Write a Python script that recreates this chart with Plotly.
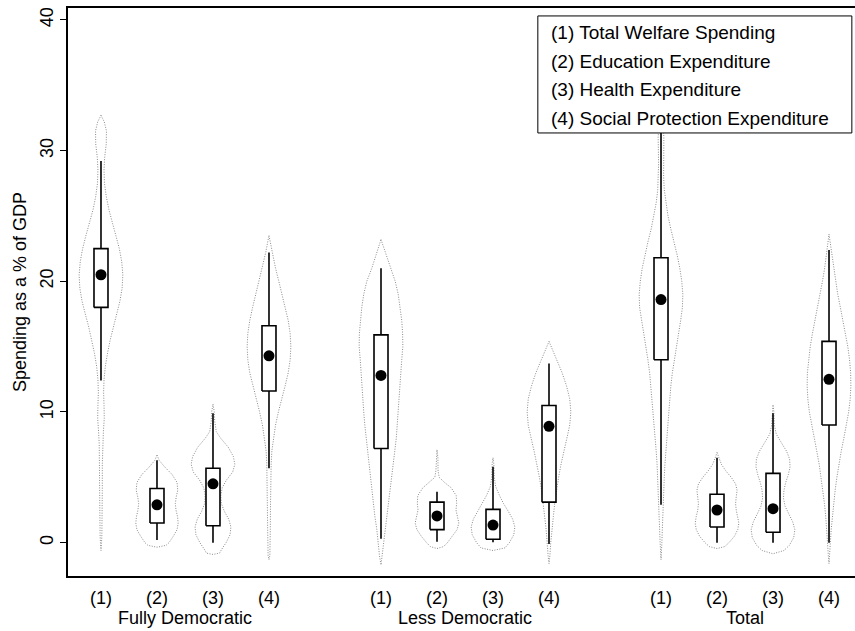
import plotly.graph_objects as go

# Groups and spending categories
groups = ["Fully Democratic", "Less Democratic", "Total"]
categories = ["(1)", "(2)", "(3)", "(4)"]
legend_labels = [
    "(1) Total Welfare Spending",
    "(2) Education Expenditure",
    "(3) Health Expenditure",
    "(4) Social Protection Expenditure",
]

# Box statistics per violin: lower adjacent, q1, median, q3, upper adjacent
lower_adj = [12.4, 0.2, 0.0, 5.7,   0.3, 0.08, 0.03, -0.1,   2.9, 0.0, 0.0, 0.0]
q1        = [18.0, 1.5, 1.3, 11.6,  7.2, 1.0, 0.26, 3.1,     14.0, 1.2, 0.8, 9.0]
median    = [20.5, 2.9, 4.5, 14.3,  12.8, 2.05, 1.35, 8.9,   18.6, 2.5, 2.6, 12.5]
q3        = [22.5, 4.15, 5.7, 16.6, 15.9, 3.1, 2.55, 10.5,   21.8, 3.7, 5.3, 15.4]
upper_adj = [29.2, 6.3, 9.9, 22.2,  21.0, 3.9, 5.8, 13.7,    32.7, 6.5, 9.9, 22.4]

# Kernel density profiles (value, relative density) for each violin
density_profiles = [
    # Fully Democratic
    [(32.7, 0), (32.2, .15), (31.5, .25), (30.5, .24), (29.5, .17), (28.5, .14), (27.5, .16),
     (26.5, .24), (25.5, .36), (24.5, .52), (23.5, .69), (22.5, .84), (21.5, .95), (20.5, 1.0),
     (19.5, .97), (18.5, .87), (17.5, .72), (16.5, .56), (15.5, .42), (14.5, .30), (13.5, .20),
     (12.5, .14), (11.5, .12), (10.5, .14), (9.5, .15), (8.5, .11), (7.5, .08), (6, .06),
     (4, .06), (2, .05), (0.5, .04), (-0.6, 0)],
    [(6.7, 0), (6.3, .10), (5.8, .35), (5.2, .70), (4.6, .92), (4.0, .95), (3.5, .88), (3.0, .84),
     (2.5, .87), (2.0, .94), (1.5, .97), (1.0, .92), (0.5, .75), (0.0, .55), (-0.2, .42), (-0.35, 0)],
    [(10.6, 0), (10.0, .06), (9.3, .08), (8.5, .15), (8.0, .35), (7.3, .70), (6.6, .93), (6.0, 1.0),
     (5.4, .90), (4.8, .62), (4.2, .42), (3.6, .36), (3.0, .38), (2.4, .52), (1.8, .72), (1.2, .82),
     (0.6, .78), (0.0, .60), (-0.5, .40), (-0.8, .30), (-0.9, 0)],
    [(23.5, 0), (23, .06), (22.2, .15), (21, .30), (20, .45), (19, .60), (18, .75), (17, .88),
     (16, .97), (15, 1.0), (14, .97), (13, .88), (12, .74), (11, .58), (10, .43), (9, .30),
     (8, .20), (7, .13), (6, .10), (5, .08), (3, .07), (1, .06), (-1, .04), (-1.3, 0)],
    # Less Democratic
    [(23.2, 0), (22.5, .14), (22, .23), (21, .42), (20, .65), (19, .79), (18, .88), (17, .95),
     (16, .99), (15, 1.0), (14, .95), (13, .91), (12, .88), (11, .84), (10, .79), (9, .74),
     (8, .70), (7, .63), (6, .56), (5, .49), (4, .42), (3, .35), (2, .28), (1, .19), (0, .12),
     (-1, .07), (-1.7, 0)],
    [(7.1, 0), (6.5, .04), (5.5, .05), (5.0, .10), (4.6, .35), (4.2, .65), (3.6, .88), (3.0, .90),
     (2.5, .87), (2.0, .95), (1.5, 1.0), (1.0, .92), (0.5, .72), (0.0, .48), (-0.3, .30), (-0.45, 0)],
    [(6.5, 0), (6.0, .04), (5.0, .06), (4.3, .12), (3.6, .30), (3.0, .48), (2.4, .70), (1.8, .90),
     (1.2, 1.0), (0.6, .95), (0.0, .75), (-0.4, .55), (-0.6, 0)],
    [(15.4, 0), (15, .10), (14, .35), (13, .60), (12, .80), (11, .95), (10, 1.0), (9, .95),
     (8, .82), (7, .68), (6, .55), (5, .44), (4, .34), (3, .26), (2, .20), (1, .13), (0, .08),
     (-1, .04), (-1.6, 0)],
    # Total
    [(32.7, 0), (32, .10), (31, .13), (30, .12), (29, .11), (28, .12), (27, .15), (26, .22),
     (25, .32), (24, .45), (23, .60), (22, .74), (21, .86), (20, .95), (19, 1.0), (18, .98),
     (17, .90), (16, .80), (15, .70), (14, .60), (13, .52), (12, .45), (11, .40), (10, .36),
     (9, .32), (8, .27), (7, .22), (6, .18), (5, .15), (4, .12), (3, .10), (2, .08), (1, .06),
     (0, .04), (-1.3, 0)],
    [(6.9, 0), (6.5, .08), (6.0, .20), (5.5, .40), (5.0, .65), (4.5, .85), (4.0, .92), (3.5, .88),
     (3.0, .85), (2.5, .88), (2.0, .95), (1.5, 1.0), (1.0, .95), (0.5, .80), (0.0, .55),
     (-0.3, .35), (-0.45, 0)],
    [(10.5, 0), (10, .04), (9, .06), (8.3, .15), (7.6, .40), (7.0, .62), (6.4, .76), (5.8, .78),
     (5.2, .70), (4.6, .58), (4.0, .50), (3.4, .48), (2.8, .55), (2.2, .72), (1.6, .90), (1.0, 1.0),
     (0.4, .95), (-0.2, .75), (-0.6, .50), (-0.85, 0)],
    [(23.6, 0), (23, .05), (22, .12), (21, .20), (20, .30), (19, .40), (18, .52), (17, .64),
     (16, .76), (15, .86), (14, .94), (13, .99), (12, 1.0), (11, .97), (10, .90), (9, .80),
     (8, .68), (7, .56), (6, .45), (5, .36), (4, .28), (3, .21), (2, .15), (1, .10), (0, .06),
     (-1, .03), (-1.6, 0)],
]

# Horizontal layout: four categories per group, a one-slot gap between groups
GROUP_STRIDE = 5
VIOLIN_HALF = 0.39      # half-width of a violin at its widest, in category units
BOX_HALF = 0.125        # half-width of the IQR box
OUTLINE = "#8a8a8a"
FONT = "Liberation Sans, Arial, sans-serif"
FS = 18
KEY_FS = 19

positions = []
for g in range(len(groups)):
    for c in range(len(categories)):
        positions.append(1 + g * GROUP_STRIDE + c)

fig = go.Figure()

for i, pos in enumerate(positions):
    prof = density_profiles[i]
    vals = [p[0] for p in prof]
    dens = [p[1] for p in prof]
    xs = [pos + d * VIOLIN_HALF for d in dens] + [pos - d * VIOLIN_HALF for d in reversed(dens)]
    ys = vals + list(reversed(vals))
    xs.append(xs[0])
    ys.append(ys[0])
    fig.add_trace(go.Scatter(
        x=xs, y=ys, mode="lines",
        line=dict(color=OUTLINE, width=1, dash="1px,1.5px"),
        hoverinfo="skip", showlegend=False,
    ))

for i, pos in enumerate(positions):
    # whiskers to adjacent values
    fig.add_trace(go.Scatter(
        x=[pos, pos, None, pos, pos],
        y=[q3[i], upper_adj[i], None, q1[i], lower_adj[i]],
        mode="lines", line=dict(color="black", width=1.6),
        hoverinfo="skip", showlegend=False,
    ))
    # interquartile box
    fig.add_trace(go.Scatter(
        x=[pos - BOX_HALF, pos + BOX_HALF, pos + BOX_HALF, pos - BOX_HALF, pos - BOX_HALF],
        y=[q1[i], q1[i], q3[i], q3[i], q1[i]],
        mode="lines", fill="toself", fillcolor="white",
        line=dict(color="black", width=1.6),
        hoverinfo="skip", showlegend=False,
    ))
    # median marker
    fig.add_trace(go.Scatter(
        x=[pos], y=[median[i]], mode="markers",
        marker=dict(color="black", size=11),
        showlegend=False,
    ))

# Group captions under the category ticks
for g, name in enumerate(groups):
    center = 1 + g * GROUP_STRIDE + (len(categories) - 1) / 2
    fig.add_annotation(
        x=center, xref="x", y=-0.074, yref="paper",
        text=name, showarrow=False, font=dict(size=FS, color="black", family=FONT),
        xanchor="center", yanchor="middle",
    )

# Key box in the upper right
fig.add_shape(
    type="rect", xref="paper", yref="paper",
    x0=0.597, x1=0.996, y0=0.78, y1=0.986,
    line=dict(color="black", width=1), fillcolor="white", layer="above",
)
for k, lab in enumerate(legend_labels):
    fig.add_annotation(
        x=0.611, xref="paper", y=0.956 - k * 0.05, yref="paper",
        text=lab, showarrow=False, font=dict(size=KEY_FS, color="black", family=FONT),
        xanchor="left", yanchor="middle",
    )

tick_text = [categories[c] for g in range(len(groups)) for c in range(len(categories))]

fig.update_layout(
    width=855, height=631,
    margin=dict(l=68, r=0, t=8, b=55),
    plot_bgcolor="white", paper_bgcolor="white",
    font=dict(family=FONT, size=FS, color="black"),
    showlegend=False,
    xaxis=dict(
        range=[0.411, 14.464],
        tickvals=positions, ticktext=tick_text,
        ticks="outside", ticklen=5, tickcolor="rgba(0,0,0,0)",
        showgrid=False, zeroline=False,
        showline=True, linecolor="black", linewidth=1.6, mirror=True,
        tickfont=dict(size=FS),
    ),
    yaxis=dict(
        range=[-2.55, 40.91],
        tickvals=[0, 10, 20, 30, 40],
        ticks="outside", ticklen=6, tickcolor="black",
        tickangle=-90,
        showgrid=False, zeroline=False,
        showline=True, linecolor="black", linewidth=1.6,
        tickfont=dict(size=FS),
        title=dict(text="Spending as a % of GDP", font=dict(size=FS), standoff=6),
    ),
)

fig.write_html("out.html")
